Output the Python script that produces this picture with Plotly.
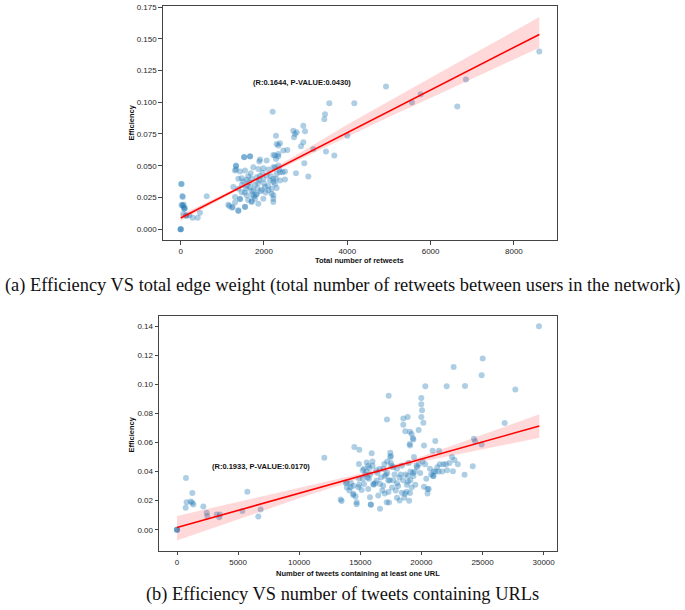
import plotly.graph_objects as go

# ---------------- Panel (a): retweets vs efficiency ----------------
retweets = [0, 0, 0, 10, 50, 20, 40, 60, 80, 90, 127, 207, 288, 408, 463, 624, 140, 60, 24, 40, 70, 100,
            1520, 1664, 1904, 1888, 2064, 2288, 2344,
            1328, 1304, 1424, 1544, 1744, 1864, 1984, 2104, 2224, 2304, 2384,
            1384, 1464, 1504, 1624, 1704, 1824, 1888, 1984, 2064, 2144, 2224, 2264,
            1264, 1384, 1464, 1568, 1664, 1744, 1840, 1920, 2024, 2104, 2184, 1984, 2224, 1784, 1704,
            1144, 1248, 1384, 1544, 1704, 1864, 1424, 1304, 1584, 1808,
            1328, 1328, 1528, 1665, 1168, 1232, 1384, 1544, 1304, 1424, 1470, 1540, 1600, 1640, 1700,
            1780, 1830, 1760, 1950, 2000, 2040, 1900, 1860, 1960, 2100, 2160, 1680, 1580, 1620, 1720,
            2208, 3568, 4168, 3465, 3448, 2944, 2704, 2784, 2744, 2984, 2720,
            2288, 2304, 2384, 2344, 2944, 2888, 2464, 2560, 2224, 2264, 2344, 3184, 3488, 3688, 4000,
            2968, 2344, 2368, 2448, 2504, 2264, 2768, 3064, 2504, 2384, 2288, 2224, 2304, 2184, 2224, 2224,
            4929, 5553, 5762, 6641, 6850, 8610]
eff_a = [0.0, 0.0, 0.0, 0.0357, 0.0253, 0.0190, 0.0188, 0.0182, 0.0165, 0.0160, 0.011, 0.011, 0.009, 0.009, 0.013, 0.026, 0.0105, 0.012, 0.0357, 0.0261, 0.0195, 0.0167,
         0.0569, 0.0575, 0.0549, 0.0533, 0.0541, 0.0553, 0.0593,
         0.0496, 0.0463, 0.0455, 0.0463, 0.0488, 0.0475, 0.0481, 0.0470, 0.0488, 0.0436, 0.0449,
         0.0397, 0.0402, 0.0376, 0.0418, 0.0397, 0.0410, 0.0384, 0.0397, 0.0423, 0.0384, 0.0397, 0.0357,
         0.0332, 0.0318, 0.0292, 0.0318, 0.0332, 0.0306, 0.0324, 0.0298, 0.0332, 0.0306, 0.0279, 0.0240, 0.0214, 0.0240, 0.0214,
         0.0193, 0.0175, 0.0149, 0.0175, 0.0220, 0.0201, 0.0240, 0.0253, 0.0267, 0.0271,
         0.0502, 0.0470, 0.0567, 0.0573, 0.0182, 0.0169, 0.0143, 0.0176, 0.0210, 0.0236, 0.0350, 0.0290, 0.0340, 0.0370, 0.0300,
         0.0350, 0.0280, 0.0260, 0.0310, 0.0360, 0.0290, 0.0420, 0.0365, 0.0445, 0.0340, 0.0420, 0.0440, 0.0390, 0.0230, 0.0270,
         0.0925, 0.0993, 0.0993, 0.0906, 0.0867, 0.0815, 0.0776, 0.0763, 0.0750, 0.0771, 0.0724,
         0.0737, 0.0671, 0.0677, 0.0659, 0.0684, 0.0653, 0.0619, 0.0624, 0.0585, 0.0580, 0.0575, 0.0632, 0.0612, 0.0580, 0.0737,
         0.0520, 0.0502, 0.0470, 0.0449, 0.0455, 0.0488, 0.0441, 0.0415, 0.0392, 0.0384, 0.0397, 0.0371, 0.0324, 0.0318, 0.0267, 0.0240,
         0.1124, 0.0998, 0.1063, 0.0967, 0.1180, 0.1400]
fit_a_x = [0, 1000, 2000, 3000, 4000, 5000, 6000, 7000, 8000, 8610]
fit_a_y = [0.0089, 0.0257, 0.0425, 0.0592, 0.0760, 0.0928, 0.1096, 0.1264, 0.1431, 0.1534]
fit_a_hi = [0.0114, 0.0272, 0.0437, 0.0627, 0.0825, 0.1011, 0.1193, 0.1377, 0.1559, 0.1672]
fit_a_lo = [0.0064, 0.0242, 0.0413, 0.0572, 0.0728, 0.0883, 0.1034, 0.1186, 0.1336, 0.1430]
ticks_a_x = [0, 2000, 4000, 6000, 8000]
ticks_a_y = [0.000, 0.025, 0.050, 0.075, 0.100, 0.125, 0.150, 0.175]

# ---------------- Panel (b): URL tweets vs efficiency ----------------
url_tweets = [0, 0, 0, 736, 1254, 790, 1120, 1336, 1250, 710, 2155, 2430, 2480, 3245, 3460, 3515, 5345, 5755, 6655, 6846, 12053, 13395, 13830,
              14510, 14918, 15930, 14890, 15520, 15650, 15740, 13890, 14240, 14430, 14840, 15300, 15110, 15650, 16060, 16340, 16610, 16880, 17290,
              14430, 14700, 15790, 16470, 15850, 16610, 17160, 14700, 13470, 14200,
              17323, 17184, 18519, 18878, 18519, 18683, 19067, 19200, 19300, 19340, 19040, 19070, 19773, 19992, 19992, 20050, 19992, 20160,
              20320, 22067, 23567, 22640, 24930, 25014, 29622, 27686, 26813, 20210, 21137, 21440, 20920,
              17450, 17500, 17450, 16966, 17500, 17550, 17700, 19390, 19600, 19650, 20100, 20300, 22500, 22700, 22980, 21500, 21800, 22000,
              21300, 21400, 21700, 21000, 21150, 21000, 20950, 22580, 23530, 24300, 24400, 24930, 24200, 20500, 20600, 20500, 20210, 19067,
              18790, 18650, 18400, 18220, 17350, 15875, 14610, 14420,
              18000, 18500, 18900, 19100, 18700, 18900, 19100, 19300, 19450, 19350, 18300, 18200, 17000, 17100, 17200, 17800, 18000, 15500,
              15800, 15300, 15400, 15700, 16000, 15200, 16600, 16900, 16400, 16300, 16100, 16200, 17600, 17900, 18100, 18800, 19200, 19500,
              17000, 16800, 17300, 18000, 18600, 19000, 15200, 14900, 16700, 17400, 17700, 18400, 19800, 20700, 20800, 22100, 22300, 20400,
              19900, 18950, 17200, 16000, 15600, 14900, 14100, 13900]
eff_b = [0.0, 0.0, 0.0, 0.0356, 0.0253, 0.0189, 0.0194, 0.0173, 0.0185, 0.0151, 0.0160, 0.0116, 0.0093, 0.0105, 0.0086, 0.0105, 0.0128, 0.0262, 0.0091, 0.0139, 0.0495, 0.0208, 0.0320,
         0.0570, 0.0550, 0.0527, 0.0452, 0.0463, 0.0440, 0.0425, 0.0326, 0.0319, 0.0303, 0.0292, 0.0315, 0.0274, 0.0281, 0.0315, 0.0338, 0.0315, 0.0303, 0.0338,
         0.0247, 0.0189, 0.0223, 0.0235, 0.0173, 0.0144, 0.0189, 0.0175, 0.0197, 0.0292,
         0.0922, 0.0758, 0.0765, 0.0776, 0.0723, 0.0677, 0.0675, 0.0658, 0.0630, 0.0621, 0.0590, 0.0580, 0.0687, 0.0906, 0.0863, 0.0822, 0.0776, 0.0737,
         0.0988, 0.0988, 0.0989, 0.1121, 0.1064, 0.1178, 0.1400, 0.0966, 0.0735, 0.0579, 0.0610, 0.0543, 0.0543,
         0.0530, 0.0507, 0.0500, 0.0453, 0.0460, 0.0440, 0.0430, 0.0500, 0.0440, 0.0430, 0.0470, 0.0450, 0.0500, 0.0480, 0.0450, 0.0450, 0.0450, 0.0450,
         0.0430, 0.0400, 0.0400, 0.0400, 0.0400, 0.0370, 0.0370, 0.0402, 0.0379, 0.0627, 0.0607, 0.0586, 0.0437, 0.0281, 0.0281, 0.0249, 0.0295, 0.0253,
         0.0262, 0.0248, 0.0255, 0.0201, 0.0188, 0.0171, 0.0228, 0.0239,
         0.0320, 0.0340, 0.0330, 0.0340, 0.0380, 0.0370, 0.0400, 0.0390, 0.0400, 0.0370, 0.0380, 0.0360, 0.0370, 0.0380, 0.0390, 0.0380, 0.0420, 0.0400,
         0.0380, 0.0420, 0.0380, 0.0350, 0.0440, 0.0410, 0.0420, 0.0420, 0.0390, 0.0410, 0.0310, 0.0320, 0.0290, 0.0270, 0.0300, 0.0310, 0.0290, 0.0310,
         0.0250, 0.0270, 0.0260, 0.0220, 0.0220, 0.0200, 0.0350, 0.0310, 0.0360, 0.0340, 0.0340, 0.0440, 0.0450, 0.0420, 0.0380, 0.0410, 0.0460, 0.0350,
         0.0390, 0.0460, 0.0470, 0.0470, 0.0360, 0.0350, 0.0270, 0.0290]
fit_b_x = [0, 5000, 10000, 15000, 17500, 20000, 25000, 29650]
fit_b_y = [0.0015, 0.0133, 0.0251, 0.0369, 0.0427, 0.0486, 0.0604, 0.0714]
fit_b_hi = [0.0095, 0.0193, 0.0286, 0.0386, 0.0442, 0.0504, 0.0654, 0.0795]
fit_b_lo = [-0.0075, 0.0073, 0.0216, 0.0352, 0.0412, 0.0468, 0.0554, 0.0633]
ticks_b_x = [0, 5000, 10000, 15000, 20000, 25000, 30000]
ticks_b_y = [0.00, 0.02, 0.04, 0.06, 0.08, 0.10, 0.12, 0.14]

label_a = "(R:0.1644, P-VALUE:0.0430)"
label_b = "(R:0.1933, P-VALUE:0.0170)"
caption_a = "(a) Efficiency VS total edge weight (total number of retweets between users in the network)"
caption_b = "(b) Efficiency VS number of tweets containing URLs"
xtitle_a = "Total number of retweets"
xtitle_b = "Number of tweets containing at least one URL"
ytitle = "Efficiency"

W, H = 685, 610
SANS = "Liberation Sans, Arial, sans-serif"
SERIF = "Liberation Serif, DejaVu Serif, serif"
PT_COLOR = "rgba(31,119,180,0.36)"
FRAME = "#444444"

fig = go.Figure()


def add_panel(xs, ys, fx, fy, fhi, flo, xa, ya):
    fig.add_trace(go.Scatter(x=xs, y=ys, mode="markers", xaxis=xa, yaxis=ya,
                             marker=dict(size=6, color=PT_COLOR, line=dict(width=0)),
                             showlegend=False, hoverinfo="skip"))
    fig.add_trace(go.Scatter(x=fx + fx[::-1], y=fhi + flo[::-1], mode="lines", fill="toself",
                             fillcolor="rgba(255,0,0,0.15)", line=dict(width=0),
                             xaxis=xa, yaxis=ya, showlegend=False, hoverinfo="skip"))
    fig.add_trace(go.Scatter(x=fx, y=fy, mode="lines", line=dict(color="red", width=1.6),
                             xaxis=xa, yaxis=ya, showlegend=False, hoverinfo="skip"))


add_panel(retweets, eff_a, fit_a_x, fit_a_y, fit_a_hi, fit_a_lo, "x", "y")
add_panel(url_tweets, eff_b, fit_b_x, fit_b_y, fit_b_hi, fit_b_lo, "x2", "y2")

axis_common = dict(showgrid=False, zeroline=False, showline=True, mirror=True,
                   linecolor=FRAME, linewidth=1.2, ticks="outside", ticklen=3.3,
                   tickwidth=1, tickcolor=FRAME, ticklabeloverflow="allow",
                   tickfont=dict(family=SANS, size=8, color="#262626"))

fig.update_layout(
    width=W, height=H, margin=dict(l=0, r=0, t=0, b=0),
    paper_bgcolor="white", plot_bgcolor="white", showlegend=False,
    xaxis=dict(domain=[162.7 / W, 557 / W], range=[-432, 9035], tickvals=ticks_a_x,
               tickformat="d", anchor="y", **axis_common),
    yaxis=dict(domain=[(H - 238.3) / H, (H - 3.3) / H], range=[-0.0086, 0.1756],
               tickvals=ticks_a_y, tickformat=".3f", anchor="x", **axis_common),
    xaxis2=dict(domain=[159 / W, 557.3 / W], range=[-1473, 31120], tickvals=ticks_b_x,
                tickformat="d", anchor="y2", **axis_common),
    yaxis2=dict(domain=[(H - 550.7) / H, (H - 314.3) / H], range=[-0.01466, 0.1473],
                tickvals=ticks_b_y, tickformat=".2f", anchor="x2", **axis_common),
)


def px_ann(xp, yp, text, size, family=SANS, angle=0):
    return dict(x=xp / W, y=(H - yp) / H, xref="paper", yref="paper", text=text,
                showarrow=False, xanchor="center", yanchor="middle", textangle=angle,
                font=dict(family=family, size=size, color="#111111"))


ann = [
    dict(x=2905, y=0.1155, xref="x", yref="y", text="<b>" + label_a + "</b>", showarrow=False,
         xanchor="center", yanchor="middle", font=dict(family=SANS, size=7.5, color="#111111")),
    dict(x=6874, y=0.0438, xref="x2", yref="y2", text="<b>" + label_b + "</b>", showarrow=False,
         xanchor="center", yanchor="middle", font=dict(family=SANS, size=7.5, color="#111111")),
    px_ann((162.7 + 557) / 2, 258.5, "<b>" + xtitle_a + "</b>", 7.5),
    px_ann(131.7, 120.5, "<b>" + ytitle + "</b>", 7.5, angle=-90),
    px_ann((159 + 557.3) / 2, 573, "<b>" + xtitle_b + "</b>", 7.5),
    px_ann(131.7, 434, "<b>" + ytitle + "</b>", 7.5, angle=-90),
    px_ann(342.5, 284, caption_a, 18.4, family=SERIF),
    px_ann(342.5, 594, caption_b, 18.4, family=SERIF),
]
fig.update_layout(annotations=ann)

fig.write_html("out.html", config={"displayModeBar": False},
               post_script="document.body.style.margin='0';")
